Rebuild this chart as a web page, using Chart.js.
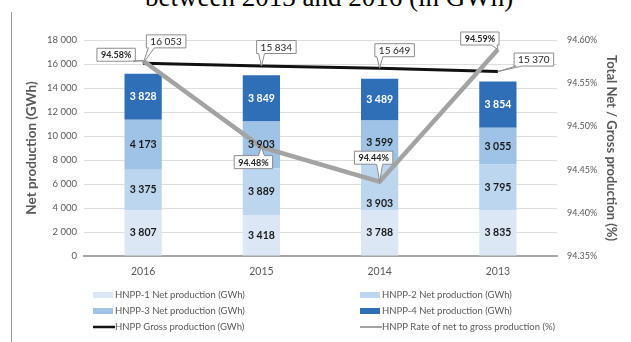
<!DOCTYPE html>
<html>
<head>
<meta charset="utf-8">
<script src="https://cdn.jsdelivr.net/npm/chart.js@4/dist/chart.umd.min.js"></script>
<style>
  html, body { margin: 0; padding: 0; background: #fff; }
  #wrap { position: relative; width: 631px; height: 342px; overflow: hidden; }
  #title { position: absolute; left: 145px; top: -16px; font: 27px/27px "Liberation Serif", serif; color: #000; white-space: nowrap; }
  #frame { position: absolute; left: 11px; top: 12px; width: 0; height: 340px; border-left: 1px solid #9a9a9a; }
  canvas { position: absolute; left: 0; top: 0; }
</style>
</head>
<body>
<div id="wrap">
  <div id="title">between 2013 and 2016 (in GWh)</div>
  <div id="frame"></div>
  <canvas id="myChart" width="631" height="342"></canvas>
</div>
<script>
const years = ['2016', '2015', '2014', '2013'];
const hnpp1 = [3807, 3418, 3788, 3835];
const hnpp2 = [3375, 3889, 3903, 3795];
const hnpp3 = [4173, 3903, 3599, 3055];
const hnpp4 = [3828, 3849, 3489, 3854];
const gross = [16053, 15834, 15649, 15370];
const rate = [94.576, 94.476, 94.436, 94.589];

const leftMin = 0, leftMax = 18000, leftStep = 2000;
const rightMin = 94.35, rightMax = 94.60, rightStep = 0.05;

const seriesNames = [
    'HNPP-1 Net production (GWh)',
    'HNPP-2 Net production (GWh)',
    'HNPP-3 Net production (GWh)',
    'HNPP-4 Net production (GWh)',
    'HNPP Gross production (GWh)',
    'HNPP Rate of net to gross production (%)'
];

const FONT = 'Lato, "Open Sans", sans-serif';
const grey = '#595959';

// thousands with a space, like the source
const fmt = v => String(Math.round(v)).replace(/\B(?=(\d{3})+(?!\d))/g, ' ');

function callout(ctx, text, px, py, dx, dy, font) {
    ctx.font = font;
    const w = ctx.measureText(text).width + 8, h = 13;
    const cx = px + dx, cy = py + dy;
    const l = cx - w / 2, r = cx + w / 2, t = cy - h / 2, b = cy + h / 2;
    const bx = Math.min(Math.max(px, l + 5), r - 5);
    ctx.beginPath();
    if (py >= cy) {
        ctx.moveTo(l, t); ctx.lineTo(r, t); ctx.lineTo(r, b);
        ctx.lineTo(bx + 3, b); ctx.lineTo(px, py); ctx.lineTo(bx - 3, b); ctx.lineTo(l, b);
    } else {
        ctx.moveTo(l, t); ctx.lineTo(bx - 3, t); ctx.lineTo(px, py); ctx.lineTo(bx + 3, t);
        ctx.lineTo(r, t); ctx.lineTo(r, b); ctx.lineTo(l, b);
    }
    ctx.closePath();
    ctx.fillStyle = '#fff';
    ctx.fill();
    ctx.strokeStyle = '#8c8c8c';
    ctx.lineWidth = 1;
    ctx.stroke();
    ctx.fillStyle = '#262626';
    ctx.textAlign = 'center';
    ctx.textBaseline = 'middle';
    ctx.fillText(text, cx, cy + 0.5);
}

const labelPlugin = {
    id: 'labels',
    afterDatasetsDraw(chart) {
        const ctx = chart.ctx;
        ctx.save();
        // bar segment values
        const nudge = { '1-2': 16 };
        for (let d = 0; d < 4; d++) {
            const meta = chart.getDatasetMeta(d);
            meta.data.forEach((bar, i) => {
                const y = (bar.y + bar.base) / 2 + (nudge[d + '-' + i] || 0);
                ctx.font = 'bold 10.5px ' + FONT;
                ctx.fillStyle = d === 3 ? '#ffffff' : '#1a1a1a';
                ctx.textAlign = 'center';
                ctx.textBaseline = 'middle';
                ctx.fillText(fmt(chart.data.datasets[d].data[i]), bar.x, y);
            });
        }
        // callouts for the two lines
        const grossOff = [[23, -22], [15, -19], [15, -18], [36, -12]];
        const rateOff = [[-27, -6], [-8, 15], [-6, -24], [-18, -11]];
        chart.getDatasetMeta(4).data.forEach((p, i) => {
            callout(ctx, fmt(gross[i]), p.x, p.y, grossOff[i][0], grossOff[i][1], '10px ' + FONT);
        });
        chart.getDatasetMeta(5).data.forEach((p, i) => {
            callout(ctx, rate[i].toFixed(2) + '%', p.x, p.y, rateOff[i][0], rateOff[i][1], 'bold 9px ' + FONT);
        });
        ctx.restore();
    },
    afterDraw(chart) {
        // two-column legend under the chart
        const ctx = chart.ctx;
        const colX = [93, 360];
        const rowY = [295, 311, 327];
        ctx.save();
        ctx.font = '9.5px ' + FONT;
        ctx.textBaseline = 'middle';
        ctx.textAlign = 'left';
        chart.data.datasets.forEach((ds, i) => {
            const x = colX[i % 2], y = rowY[Math.floor(i / 2)];
            if (ds.type === 'line') {
                ctx.strokeStyle = ds.borderColor;
                ctx.lineWidth = i === 4 ? 2.5 : 2;
                ctx.beginPath();
                ctx.moveTo(x, y); ctx.lineTo(x + 22, y);
                ctx.stroke();
            } else {
                ctx.fillStyle = ds.backgroundColor;
                ctx.fillRect(x, y - 3, 20, 6);
            }
            ctx.fillStyle = grey;
            ctx.fillText(ds.label, x + 22, y);
        });
        ctx.restore();
    }
};

const barColors = ['#dbe7f4', '#bdd6ef', '#9fc2e7', '#2f6fb7'];
const barSets = [hnpp1, hnpp2, hnpp3, hnpp4].map((data, i) => ({
    type: 'bar',
    label: seriesNames[i],
    data: data,
    backgroundColor: barColors[i],
    stack: 'net',
    yAxisID: 'y',
    order: 2,
    barPercentage: 0.315,
    categoryPercentage: 1
}));

new Chart(document.getElementById('myChart').getContext('2d'), {
    data: {
        labels: years,
        datasets: [
            ...barSets,
            {
                type: 'line',
                label: seriesNames[4],
                data: gross,
                borderColor: '#111111',
                borderWidth: 3,
                pointRadius: 0,
                stack: 'gross',
                yAxisID: 'y',
                order: 1
            },
            {
                type: 'line',
                label: seriesNames[5],
                data: rate,
                borderColor: '#a3a3a3',
                borderWidth: 4.5,
                pointRadius: 0,
                yAxisID: 'y1',
                order: 0
            }
        ]
    },
    options: {
        responsive: false,
        animation: false,
        devicePixelRatio: 1,
        layout: { padding: { top: 40, bottom: 60, left: 0, right: 0 } },
        plugins: {
            legend: { display: false },
            tooltip: { enabled: false }
        },
        scales: {
            x: {
                stacked: true,
                grid: { display: false, drawTicks: false },
                border: { display: true, color: '#a6a6a6', width: 2 },
                ticks: { color: grey, font: { family: FONT, size: 10.5 }, padding: 9 },
                afterFit(s) { s.height = 26; }
            },
            y: {
                stacked: true,
                position: 'left',
                min: leftMin,
                max: leftMax,
                grid: { color: '#dedede', drawTicks: false },
                border: { display: false },
                ticks: {
                    stepSize: leftStep,
                    color: grey,
                    font: { family: FONT, size: 9.5 },
                    padding: 7,
                    callback: v => fmt(v)
                },
                title: {
                    display: true,
                    text: 'Net production (GWh)',
                    color: grey,
                    font: { family: FONT, size: 13.5, weight: 'bold' },
                    padding: { top: 24 }
                },
                afterFit(s) { s.width = 84; }
            },
            y1: {
                position: 'right',
                min: rightMin,
                max: rightMax,
                grid: { display: false, drawTicks: false },
                border: { display: false },
                ticks: {
                    stepSize: rightStep,
                    color: grey,
                    font: { family: FONT, size: 9 },
                    padding: 10,
                    callback: v => v.toFixed(2) + '%'
                },
                title: {
                    display: true,
                    text: 'Total Net / Gross production (%)',
                    color: grey,
                    font: { family: FONT, size: 13, weight: 'bold' },
                    padding: { top: 12 }
                },
                afterFit(s) { s.width = 74; }
            }
        }
    },
    plugins: [labelPlugin]
});
</script>
</body>
</html>
